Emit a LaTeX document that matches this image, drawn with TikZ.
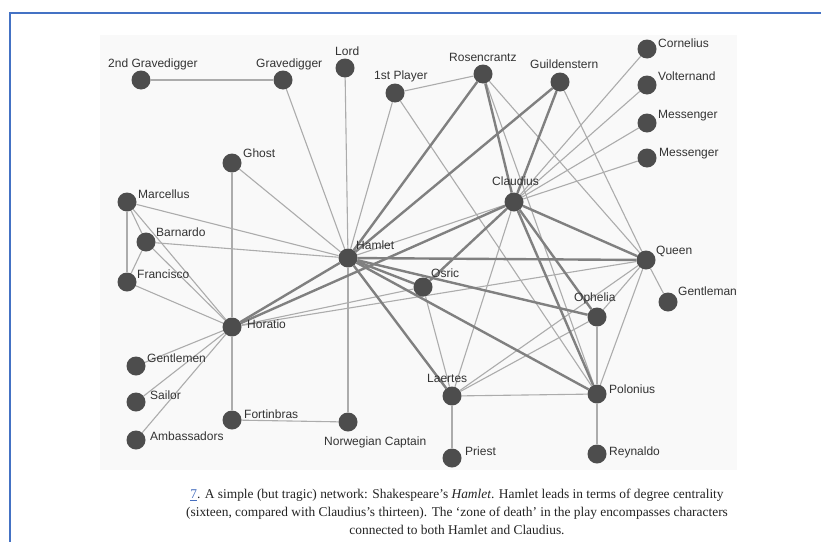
\documentclass[tikz,border=0pt]{standalone}
\usepackage{fontspec}
\setmainfont{Liberation Serif}
\newfontfamily\labelfont{Liberation Sans}
\usetikzlibrary{backgrounds}

\definecolor{frameblue}{RGB}{68,114,196}
\definecolor{panel}{RGB}{249,249,249}
\definecolor{dotfill}{RGB}{77,77,77}
\definecolor{tiecol}{RGB}{172,172,172}
\definecolor{bondcol}{RGB}{128,128,128}
\definecolor{labeltext}{RGB}{51,51,51}
\definecolor{captext}{RGB}{35,35,35}
\definecolor{linkblue}{RGB}{70,110,190}

\pgfdeclarelayer{panel}
\pgfdeclarelayer{edges}
\pgfsetlayers{panel,edges,main}

\begin{document}
\begin{tikzpicture}[x=1pt,y=-1pt,
  dot/.style={circle,fill=dotfill,minimum size=19pt,inner sep=0pt},
  lbl/.style={anchor=base west,inner sep=0pt,
              font=\labelfont\fontsize{12}{12}\selectfont,text=labeltext},
  tie/.style={draw=tiecol,line width=1.1pt},
  bond/.style={draw=bondcol,line width=2.4pt}]

\useasboundingbox (0,0) rectangle (821,541);
\clip (0,0) rectangle (821,541);

% page frame and the panel behind the network
\begin{pgfonlayer}{panel}
  \fill[white] (0,0) rectangle (821,541);
  \fill[panel] (100,35) rectangle (737,470);
  \draw[frameblue,line width=2.6pt] (10,900) -- (10,13) -- (900,13);
\end{pgfonlayer}

% characters
\node[dot] (gd2)   at (141,80)  {};
\node[dot] (gd)    at (283,80)  {};
\node[dot] (lord)  at (345,68)  {};
\node[dot] (play)  at (395,93)  {};
\node[dot] (ros)   at (483,74)  {};
\node[dot] (guil)  at (560,82)  {};
\node[dot] (corn)  at (647,49)  {};
\node[dot] (volt)  at (647,85)  {};
\node[dot] (mesa)  at (647,123) {};
\node[dot] (mesb)  at (647,158) {};
\node[dot] (claud) at (514,202) {};
\node[dot] (queen) at (646,260) {};
\node[dot] (gent)  at (668,302) {};
\node[dot] (oph)   at (597,317) {};
\node[dot] (pol)   at (597,394) {};
\node[dot] (reyn)  at (597,454) {};
\node[dot] (laer)  at (452,396) {};
\node[dot] (priest) at (452,458) {};
\node[dot] (osric) at (423,287) {};
\node[dot] (ham)   at (348,258) {};
\node[dot] (ghost) at (232,163) {};
\node[dot] (marc)  at (127,202) {};
\node[dot] (barn)  at (146,242) {};
\node[dot] (fran)  at (127,282) {};
\node[dot] (hor)   at (232,327) {};
\node[dot] (gmen)  at (136,366) {};
\node[dot] (sail)  at (136,402) {};
\node[dot] (amb)   at (136,440) {};
\node[dot] (fort)  at (232,420) {};
\node[dot] (ncap)  at (348,422) {};

% names
\node[lbl] (gd2-l)   at (108,67.5)  {2nd Gravedigger};
\node[lbl] (gd-l)    at (256,67.5)  {Gravedigger};
\node[lbl] (lord-l)  at (335,55.5)  {Lord};
\node[lbl] (play-l)  at (374,79.5)  {1st Player};
\node[lbl] (ros-l)   at (449,61.5)  {Rosencrantz};
\node[lbl] (guil-l)  at (530,68.5)  {Guildenstern};
\node[lbl] (corn-l)  at (658,47.5)  {Cornelius};
\node[lbl] (volt-l)  at (658,80.5)  {Volternand};
\node[lbl] (mesa-l)  at (658,118.5) {Messenger};
\node[lbl] (mesb-l)  at (659,156.5) {Messenger};
\node[lbl] (claud-l) at (492,185.5) {Claudius};
\node[lbl] (queen-l) at (656,254.5) {Queen};
\node[lbl] (gent-l)  at (678,295.5) {Gentleman};
\node[lbl] (oph-l)   at (574,301.5) {Ophelia};
\node[lbl] (pol-l)   at (609,393.5) {Polonius};
\node[lbl] (reyn-l)  at (609,455.5) {Reynaldo};
\node[lbl] (laer-l)  at (427,382.5) {Laertes};
\node[lbl] (priest-l) at (465,455.5) {Priest};
\node[lbl] (osric-l) at (431,277.5) {Osric};
\node[lbl] (ham-l)   at (356,249.5) {Hamlet};
\node[lbl] (ghost-l) at (243,157.5) {Ghost};
\node[lbl] (marc-l)  at (138,198.5) {Marcellus};
\node[lbl] (barn-l)  at (156,236.5) {Barnardo};
\node[lbl] (fran-l)  at (137,278.5) {Francisco};
\node[lbl] (hor-l)   at (247,328.5) {Horatio};
\node[lbl] (gmen-l)  at (147,362.5) {Gentlemen};
\node[lbl] (sail-l)  at (150,399.5) {Sailor};
\node[lbl] (amb-l)   at (150,440.5) {Ambassadors};
\node[lbl] (fort-l)  at (244,418.5) {Fortinbras};
\node[lbl] (ncap-l)  at (324,445.5) {Norwegian Captain};

% relations
\begin{pgfonlayer}{edges}
  \foreach \a/\b in {gd2/gd, gd/ham, lord/ham, play/ros, play/ham, play/pol,
      ghost/ham, ghost/hor, marc/ham, marc/barn, marc/fran, marc/hor,
      barn/ham, barn/fran, barn/hor, fran/hor, hor/gmen, hor/sail, hor/amb,
      hor/fort, fort/ncap, ncap/ham, hor/osric, hor/queen, ham/claud,
      ros/pol, ros/queen, guil/queen, claud/corn, claud/volt, claud/mesa,
      claud/mesb, claud/laer, osric/laer, laer/oph, laer/queen, laer/pol,
      laer/priest, oph/queen, oph/pol, queen/pol, queen/gent, pol/reyn}
    \draw[tie] (\a) -- (\b);
  \foreach \a/\b in {ham/ros, ham/guil, ham/queen, ham/oph, ham/osric,
      ham/pol, ham/laer, ham/hor, hor/claud, ros/claud, guil/claud,
      claud/osric, claud/queen, claud/oph, claud/pol}
    \draw[bond] (\a) -- (\b);
\end{pgfonlayer}

% caption
\node[align=center,text=captext,inner sep=0pt,
      font=\fontsize{13.4}{18}\selectfont] (cap) at (457,512)
  {{\color{linkblue}\underline{7}}. A simple (but tragic) network: Shakespeare’s \textit{Hamlet}. Hamlet leads in terms of degree centrality\\
   (sixteen, compared with Claudius’s thirteen). The ‘zone of death’ in the play encompasses characters\\
   connected to both Hamlet and Claudius.};
\end{tikzpicture}
\end{document}
